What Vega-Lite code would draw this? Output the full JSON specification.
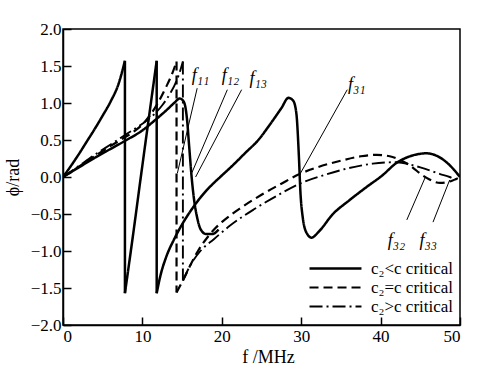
{
  "$schema": "https://vega.github.io/schema/vega-lite/v6.json",
  "width": 397,
  "height": 296,
  "autosize": "none",
  "padding": {"left": 63, "top": 29, "right": 32, "bottom": 47},
  "background": "white",
  "config": {
    "view": {"stroke": "black", "strokeWidth": 1.5},
    "font": "Liberation Serif",
    "axis": {"grid": false, "domainColor": "black", "domainWidth": 1.5, "tickColor": "black", "tickWidth": 1.5, "labelColor": "black", "titleColor": "black", "labelFont": "Liberation Serif", "titleFont": "Liberation Serif", "labelFontSize": 17, "titleFontSize": 18, "titleFontWeight": "normal", "labelOverlap": false}
  },
  "datasets": {
    "curves": [
      {"s":"S1a","k":"a","f":0,"p":0},{"s":"S1a","k":"a","f":1,"p":0.15},{"s":"S1a","k":"a","f":2,"p":0.31},{"s":"S1a","k":"a","f":3,"p":0.48},{"s":"S1a","k":"a","f":4,"p":0.65},{"s":"S1a","k":"a","f":5,"p":0.83},{"s":"S1a","k":"a","f":6,"p":1.02},{"s":"S1a","k":"a","f":7,"p":1.26},{"s":"S1a","k":"a","f":7.8,"p":1.57},
      {"s":"S1v1","k":"a","f":7.8,"p":1.57},{"s":"S1v1","k":"a","f":7.8,"p":-1.57},
      {"s":"S1b","k":"a","f":7.8,"p":-1.57},{"s":"S1b","k":"a","f":8.8,"p":-0.8},{"s":"S1b","k":"a","f":9.8,"p":0},{"s":"S1b","k":"a","f":10.8,"p":0.79},{"s":"S1b","k":"a","f":11.8,"p":1.57},
      {"s":"S1v2","k":"a","f":11.8,"p":1.57},{"s":"S1v2","k":"a","f":11.8,"p":-1.57},
      {"s":"S1c","k":"a","f":11.8,"p":-1.57},{"s":"S1c","k":"a","f":12.3,"p":-1.32},{"s":"S1c","k":"a","f":13,"p":-1.08},{"s":"S1c","k":"a","f":14,"p":-0.84},{"s":"S1c","k":"a","f":15,"p":-0.64},{"s":"S1c","k":"a","f":16,"p":-0.47},{"s":"S1c","k":"a","f":17,"p":-0.32},{"s":"S1c","k":"a","f":18,"p":-0.19},{"s":"S1c","k":"a","f":19,"p":-0.08},{"s":"S1c","k":"a","f":19.8,"p":0},{"s":"S1c","k":"a","f":21.5,"p":0.17},{"s":"S1c","k":"a","f":23,"p":0.33},{"s":"S1c","k":"a","f":24.6,"p":0.5},{"s":"S1c","k":"a","f":26,"p":0.7},{"s":"S1c","k":"a","f":27.5,"p":0.93},{"s":"S1c","k":"a","f":28.4,"p":1.07},{"s":"S1c","k":"a","f":29.0,"p":1.03},{"s":"S1c","k":"a","f":29.4,"p":0.85},{"s":"S1c","k":"a","f":29.7,"p":0.3},{"s":"S1c","k":"a","f":29.9,"p":-0.2},{"s":"S1c","k":"a","f":30.2,"p":-0.55},{"s":"S1c","k":"a","f":30.7,"p":-0.76},{"s":"S1c","k":"a","f":31.3,"p":-0.82},{"s":"S1c","k":"a","f":32.2,"p":-0.74},{"s":"S1c","k":"a","f":34,"p":-0.5},{"s":"S1c","k":"a","f":36,"p":-0.32},{"s":"S1c","k":"a","f":38.3,"p":-0.13},{"s":"S1c","k":"a","f":40.2,"p":0.02},{"s":"S1c","k":"a","f":42,"p":0.19},{"s":"S1c","k":"a","f":44,"p":0.29},{"s":"S1c","k":"a","f":45.8,"p":0.32},{"s":"S1c","k":"a","f":47,"p":0.29},{"s":"S1c","k":"a","f":48.5,"p":0.18},{"s":"S1c","k":"a","f":50,"p":0},
      {"s":"S2","k":"a","f":0,"p":0},{"s":"S2","k":"a","f":2,"p":0.13},{"s":"S2","k":"a","f":4,"p":0.26},{"s":"S2","k":"a","f":6,"p":0.38},{"s":"S2","k":"a","f":8,"p":0.5},{"s":"S2","k":"a","f":10,"p":0.63},{"s":"S2","k":"a","f":11.5,"p":0.76},{"s":"S2","k":"a","f":13,"p":0.9},{"s":"S2","k":"a","f":14,"p":1.0},{"s":"S2","k":"a","f":14.7,"p":1.06},{"s":"S2","k":"a","f":15.2,"p":1.02},{"s":"S2","k":"a","f":15.6,"p":0.8},{"s":"S2","k":"a","f":15.9,"p":0.4},{"s":"S2","k":"a","f":16.2,"p":0},{"s":"S2","k":"a","f":16.5,"p":-0.3},{"s":"S2","k":"a","f":16.9,"p":-0.55},{"s":"S2","k":"a","f":17.3,"p":-0.7},{"s":"S2","k":"a","f":18,"p":-0.77},{"s":"S2","k":"a","f":18.8,"p":-0.77},{"s":"S2","k":"a","f":19.6,"p":-0.71},
      {"s":"Da","k":"b","f":0,"p":0},{"s":"Da","k":"b","f":2,"p":0.14},{"s":"Da","k":"b","f":4,"p":0.28},{"s":"Da","k":"b","f":6,"p":0.42},{"s":"Da","k":"b","f":8,"p":0.55},{"s":"Da","k":"b","f":9,"p":0.62},{"s":"Da","k":"b","f":10,"p":0.71},{"s":"Da","k":"b","f":11,"p":0.84},{"s":"Da","k":"b","f":12,"p":1.01},{"s":"Da","k":"b","f":13,"p":1.22},{"s":"Da","k":"b","f":13.8,"p":1.41},{"s":"Da","k":"b","f":14.3,"p":1.56},
      {"s":"Dv","k":"b","f":14.3,"p":1.56},{"s":"Dv","k":"b","f":14.3,"p":-1.56},
      {"s":"Db","k":"b","f":14.3,"p":-1.56},{"s":"Db","k":"b","f":14.5,"p":-1.52},{"s":"Db","k":"b","f":15.2,"p":-1.38},{"s":"Db","k":"b","f":16,"p":-1.2},{"s":"Db","k":"b","f":17,"p":-1.0},{"s":"Db","k":"b","f":18.3,"p":-0.8},{"s":"Db","k":"b","f":19.2,"p":-0.69},{"s":"Db","k":"b","f":20,"p":-0.61},{"s":"Db","k":"b","f":22.5,"p":-0.41},{"s":"Db","k":"b","f":25,"p":-0.24},{"s":"Db","k":"b","f":27.5,"p":-0.09},{"s":"Db","k":"b","f":29.8,"p":0.04},{"s":"Db","k":"b","f":32,"p":0.13},{"s":"Db","k":"b","f":35,"p":0.22},{"s":"Db","k":"b","f":37.5,"p":0.28},{"s":"Db","k":"b","f":39.5,"p":0.3},{"s":"Db","k":"b","f":41.5,"p":0.27},{"s":"Db","k":"b","f":43.5,"p":0.17},{"s":"Db","k":"b","f":45.6,"p":0},{"s":"Db","k":"b","f":47.5,"p":-0.08},{"s":"Db","k":"b","f":49,"p":-0.05},{"s":"Db","k":"b","f":50,"p":0},
      {"s":"Ca","k":"c","f":0,"p":0},{"s":"Ca","k":"c","f":2,"p":0.15},{"s":"Ca","k":"c","f":4,"p":0.3},{"s":"Ca","k":"c","f":6,"p":0.44},{"s":"Ca","k":"c","f":8,"p":0.58},{"s":"Ca","k":"c","f":10,"p":0.72},{"s":"Ca","k":"c","f":11.5,"p":0.85},{"s":"Ca","k":"c","f":12.5,"p":0.97},{"s":"Ca","k":"c","f":13.5,"p":1.13},{"s":"Ca","k":"c","f":14.3,"p":1.3},{"s":"Ca","k":"c","f":14.8,"p":1.45},{"s":"Ca","k":"c","f":15.1,"p":1.56},
      {"s":"Cv","k":"c","f":15.1,"p":1.56},{"s":"Cv","k":"c","f":15.1,"p":-1.4},
      {"s":"Cb","k":"c","f":15.1,"p":-1.4},{"s":"Cb","k":"c","f":16,"p":-1.2},{"s":"Cb","k":"c","f":17.3,"p":-1.0},{"s":"Cb","k":"c","f":19,"p":-0.84},{"s":"Cb","k":"c","f":21,"p":-0.66},{"s":"Cb","k":"c","f":24,"p":-0.44},{"s":"Cb","k":"c","f":27,"p":-0.25},{"s":"Cb","k":"c","f":29.8,"p":-0.09},{"s":"Cb","k":"c","f":33,"p":0.03},{"s":"Cb","k":"c","f":36,"p":0.12},{"s":"Cb","k":"c","f":39,"p":0.18},{"s":"Cb","k":"c","f":42,"p":0.2},{"s":"Cb","k":"c","f":45,"p":0.13},{"s":"Cb","k":"c","f":47.5,"p":0.04},{"s":"Cb","k":"c","f":48.7,"p":0},{"s":"Cb","k":"c","f":49.4,"p":-0.03},{"s":"Cb","k":"c","f":50,"p":0}
    ],
    "leaders": [
      {"f":16.9,"p":1.2,"f2":14.4,"p2":0.05},
      {"f":20.7,"p":1.18,"f2":16.2,"p2":0.05},
      {"f":22.5,"p":1.18,"f2":16.7,"p2":0.0},
      {"f":35.8,"p":1.18,"f2":29.8,"p2":0.03},
      {"f":43.3,"p":-0.58,"f2":45.6,"p2":-0.01},
      {"f":46.6,"p":-0.61,"f2":48.7,"p2":-0.04}
    ],
    "labels": [
      {"t":"f₁₁","f":16.2,"p":1.36},
      {"t":"f₁₂","f":20.0,"p":1.36},
      {"t":"f₁₃","f":23.5,"p":1.33},
      {"t":"f₃₁","f":35.9,"p":1.24},
      {"t":"f₃₂","f":40.9,"p":-0.86},
      {"t":"f₃₃","f":44.9,"p":-0.86}
    ]
  },
  "layer": [
    {
      "data": {"name": "curves"},
      "mark": {"type": "line", "color": "black", "clip": true, "interpolate": "monotone"},
      "encoding": {
        "x": {"field": "f", "type": "quantitative", "scale": {"domain": [0, 50], "nice": false},
              "axis": {"values": [0, 10, 20, 30, 40, 50], "tickSize": -8, "labelPadding": 11, "title": "f /MHz", "titleY": 32, "titleX": 205, "titleBaseline": "middle"}},
        "y": {"field": "p", "type": "quantitative", "scale": {"domain": [-2, 2], "nice": false},
              "axis": {"values": [-2, -1.5, -1, -0.5, 0, 0.5, 1, 1.5, 2], "tickCount": 9, "format": ".1f", "tickSize": -8, "labelPadding": 10, "title": "ϕ/rad", "titleAngle": -90, "titleX": -50, "titleY": 148, "titleAlign": "center", "titleBaseline": "middle"}},
        "detail": {"field": "s"},
        "strokeDash": {"field": "k", "type": "nominal",
          "scale": {"domain": ["a", "b", "c"], "range": [[1, 0], [9, 5], [13, 4, 2, 4]]},
          "legend": {"orient": "none", "legendX": 245, "legendY": 230, "title": null, "symbolType": "stroke", "symbolSize": 2700, "symbolStrokeWidth": 2.2, "symbolStrokeColor": "black", "labelFont": "Liberation Serif", "labelFontSize": 17, "labelColor": "black", "rowPadding": 0, "clipHeight": 19, "labelOffset": 8,
            "labelExpr": "datum.label == 'a' ? 'c₂<c critical' : datum.label == 'b' ? 'c₂=c critical' : 'c₂>c critical'"}},
        "strokeWidth": {"field": "k", "type": "nominal", "scale": {"domain": ["a", "b", "c"], "range": [2.5, 1.9, 1.9]}, "legend": null}
      }
    },
    {
      "mark": {"type": "rule", "color": "black", "strokeWidth": 1.3, "strokeDash": [11, 7]},
      "encoding": {"y": {"datum": 0, "type": "quantitative",
              "axis": {"values": [-2, -1.5, -1, -0.5, 0, 0.5, 1, 1.5, 2], "tickCount": 9, "format": ".1f", "tickSize": -8, "labelPadding": 10, "title": "ϕ/rad", "titleAngle": -90, "titleX": -50, "titleY": 148, "titleAlign": "center", "titleBaseline": "middle"}}}
    },
    {
      "data": {"name": "leaders"},
      "mark": {"type": "rule", "color": "black", "strokeWidth": 1},
      "encoding": {
        "x": {"field": "f", "type": "quantitative",
              "axis": {"values": [0, 10, 20, 30, 40, 50], "tickSize": -8, "labelPadding": 11, "title": "f /MHz", "titleY": 32, "titleX": 205, "titleBaseline": "middle"}},
        "y": {"field": "p", "type": "quantitative",
              "axis": {"values": [-2, -1.5, -1, -0.5, 0, 0.5, 1, 1.5, 2], "tickCount": 9, "format": ".1f", "tickSize": -8, "labelPadding": 10, "title": "ϕ/rad", "titleAngle": -90, "titleX": -50, "titleY": 148, "titleAlign": "center", "titleBaseline": "middle"}},
        "x2": {"field": "f2"},
        "y2": {"field": "p2"}
      }
    },
    {
      "data": {"name": "labels"},
      "mark": {"type": "text", "align": "left", "baseline": "middle", "font": "Liberation Serif", "fontSize": 18, "fontStyle": "italic", "color": "black"},
      "encoding": {
        "x": {"field": "f", "type": "quantitative",
              "axis": {"values": [0, 10, 20, 30, 40, 50], "tickSize": -8, "labelPadding": 11, "title": "f /MHz", "titleY": 32, "titleX": 205, "titleBaseline": "middle"}},
        "y": {"field": "p", "type": "quantitative",
              "axis": {"values": [-2, -1.5, -1, -0.5, 0, 0.5, 1, 1.5, 2], "tickCount": 9, "format": ".1f", "tickSize": -8, "labelPadding": 10, "title": "ϕ/rad", "titleAngle": -90, "titleX": -50, "titleY": 148, "titleAlign": "center", "titleBaseline": "middle"}},
        "text": {"field": "t"}
      }
    }
  ]
}
